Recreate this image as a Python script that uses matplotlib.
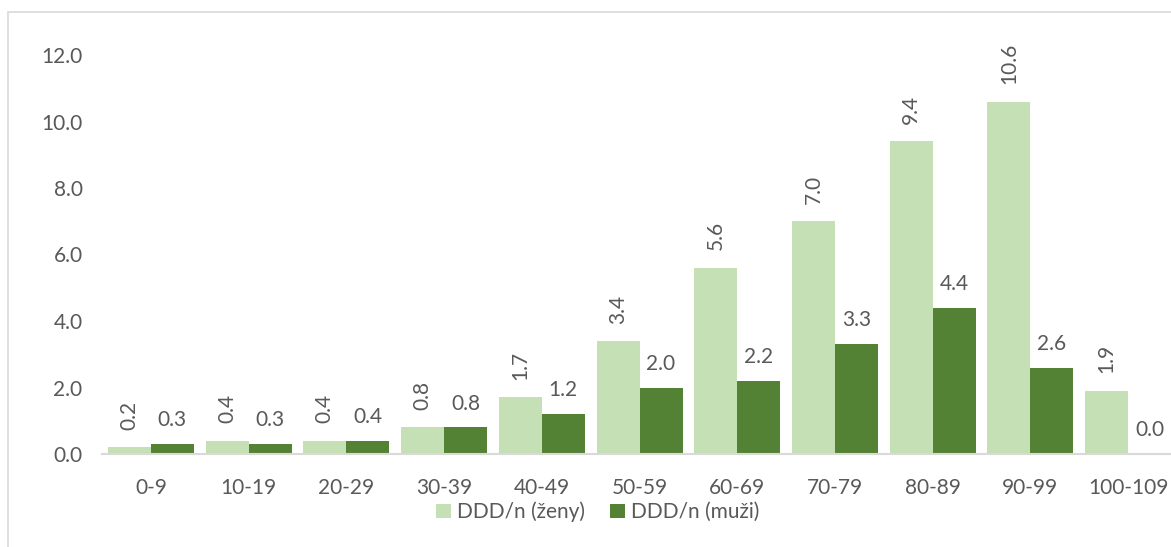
import numpy as np
import matplotlib.pyplot as plt
from matplotlib.patches import Rectangle

# věkové skupiny a hodnoty DDD/n
age_groups = ["0-9", "10-19", "20-29", "30-39", "40-49", "50-59",
              "60-69", "70-79", "80-89", "90-99", "100-109"]
ddd_women = [0.2, 0.4, 0.4, 0.8, 1.7, 3.4, 5.6, 7.0, 9.4, 10.6, 1.9]
ddd_men = [0.3, 0.3, 0.4, 0.8, 1.2, 2.0, 2.2, 3.3, 4.4, 2.6, 0.0]

LIGHT = "#C5E0B4"
DARK = "#548235"
TXT = "#595959"

plt.rcParams["font.family"] = ["Lato", "DejaVu Sans"]
plt.rcParams["font.size"] = 15

fig = plt.figure(figsize=(11.71, 5.47), dpi=100)
W, H = 1171, 547

# rámeček grafu (pravý a spodní okraj mimo obrázek)
fig.patches.append(Rectangle((8 / W, -0.1), 1.2, 1.1 - 12 / H,
                             transform=fig.transFigure, fill=False,
                             edgecolor="#D9D9D9", lw=1.2))

ax = fig.add_axes([102 / W, (H - 454) / H, 1075 / W, 399 / H])

x = np.arange(len(age_groups))
bw = 0.44
bars_w = ax.bar(x - bw / 2, ddd_women, bw, color=LIGHT, label="DDD/n (ženy)")
bars_m = ax.bar(x + bw / 2, ddd_men, bw, color=DARK, label="DDD/n (muži)")

# popisky: ženy svisle, muži vodorovně
for b, v in zip(bars_w, ddd_women):
    ax.annotate(f"{v:.1f}", (b.get_x() + b.get_width() / 2, v),
                xytext=(0, 12.5), textcoords="offset points",
                ha="center", va="bottom", rotation=90, color=TXT,
                fontsize=15, annotation_clip=False)
for b, v in zip(bars_m, ddd_men):
    ax.annotate(f"{v:.1f}", (b.get_x() + b.get_width() / 2, v),
                xytext=(0, 10), textcoords="offset points",
                ha="center", va="bottom", color=TXT,
                fontsize=15, annotation_clip=False)

ax.set_xlim(-0.5, len(age_groups) - 0.5)
ax.set_ylim(0, 12)
ax.set_yticks(np.arange(0, 12.1, 2))
ax.set_yticklabels([f"{t:.1f}" for t in np.arange(0, 12.1, 2)])
ax.set_xticks(x)
ax.set_xticklabels(age_groups)
ax.tick_params(length=0, colors=TXT, labelsize=15)
ax.tick_params(axis="x", pad=17)
ax.tick_params(axis="y", pad=14)

for s in ["top", "right", "left"]:
    ax.spines[s].set_visible(False)
ax.spines["bottom"].set_color("#D9D9D9")
ax.spines["bottom"].set_linewidth(1.5)

ax.legend(loc="center", bbox_to_anchor=(598 / W, (H - 512) / H),
          bbox_transform=fig.transFigure, ncol=2, frameon=False,
          handlelength=0.7, handleheight=0.7, handletextpad=0.3,
          columnspacing=1.2, fontsize=15, labelcolor=TXT)

fig.savefig("out.png", dpi=100)
